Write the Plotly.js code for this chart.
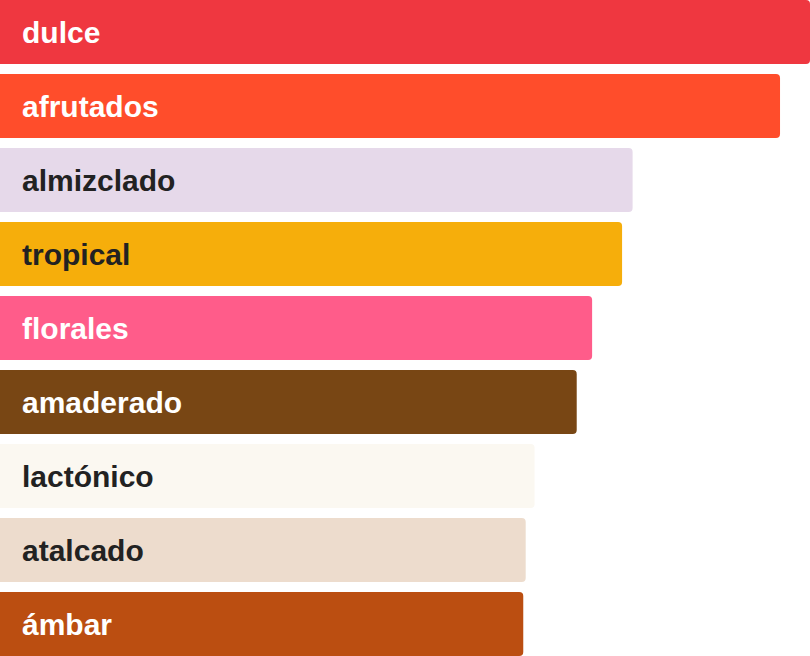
<!DOCTYPE html>
<html>
<head>
<meta charset="utf-8">
<script src="https://cdn.plot.ly/plotly-3.0.1.min.js"></script>
<style>
  html, body { margin: 0; padding: 0; background: #fff; }
  #chart { width: 810px; height: 656px; }
</style>
</head>
<body>
<div id="chart"></div>
<script>
// Aromas and their share (dulce = 100)
const notes = ['dulce', 'afrutados', 'almizclado', 'tropical', 'florales', 'amaderado', 'lactónico', 'atalcado', 'ámbar'];
const scores = [100, 96.3, 78.1, 76.8, 73.1, 71.2, 66.0, 64.9, 64.6];
const colors = ['#EF3740', '#FF4D2B', '#E6D9EA', '#F6AE0B', '#FF5C8A', '#784614', '#FBF8F1', '#EDDCCD', '#BB4E11'];

// light bars get dark text, dark bars get white text
function textColor(hex) {
	const r = parseInt(hex.substr(1, 2), 16);
	const g = parseInt(hex.substr(3, 2), 16);
	const b = parseInt(hex.substr(5, 2), 16);
	const lum = (0.299 * r + 0.587 * g + 0.114 * b) / 255;
	return lum > 0.62 ? '#222222' : '#ffffff';
}

const bars = {
	type: 'bar',
	orientation: 'h',
	x: scores,
	y: notes,
	marker: { color: colors, line: { width: 0 } },
	hoverinfo: 'none'
};

const annos = notes.map((n, i) => ({
	x: 0, y: n, xref: 'x', yref: 'y',
	xanchor: 'left', yanchor: 'middle',
	xshift: 20,
	text: '<b>' + n + '</b>',
	showarrow: false,
	font: { family: 'Liberation Sans, Arial, sans-serif', size: 30, color: textColor(colors[i]) }
}));

// bar is 64px tall in a 74px slot
const half = 0.5 * 64 / 74;

Plotly.newPlot('chart', [bars], {
	width: 810,
	height: 656,
	margin: { l: 0, r: 0, t: 0, b: 0 },
	paper_bgcolor: '#ffffff',
	plot_bgcolor: '#ffffff',
	bargap: 10 / 74,
	barcornerradius: 4,
	showlegend: false,
	xaxis: { range: [0, 100], visible: false, fixedrange: true },
	yaxis: { range: [notes.length - 1 + half, -half], visible: false, fixedrange: true },
	annotations: annos
}, { staticPlot: true });
</script>
</body>
</html>
